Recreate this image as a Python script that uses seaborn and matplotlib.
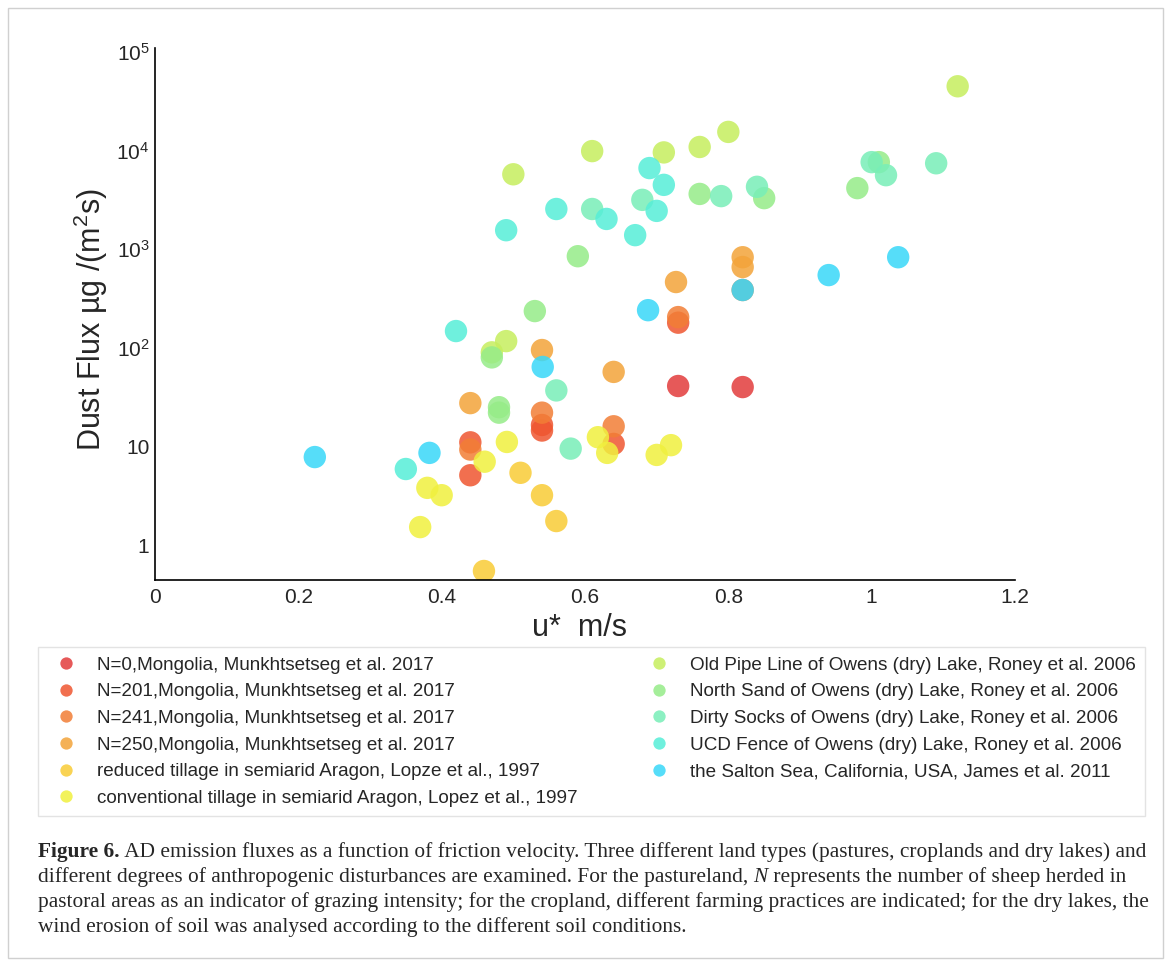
import pandas as pd
import matplotlib.pyplot as plt
import matplotlib.ticker as mticker
from matplotlib.patches import Rectangle
import seaborn as sns

# values (u* in m/s, dust flux in ug/(m2 s))
n0_x = [0.73, 0.82]
n0_y = [41, 40]
n201_x = [0.44, 0.44, 0.54, 0.54, 0.64, 0.73]
n201_y = [11.0, 5.1, 16.5, 14.5, 10.6, 180]
n241_x = [0.44, 0.54, 0.64, 0.73, 0.82]
n241_y = [9.3, 22, 16, 205, 386]
n250_x = [0.44, 0.54, 0.64, 0.727, 0.82, 0.82]
n250_y = [27.5, 95, 57, 465, 830, 660]
reduced_x = [0.459, 0.51, 0.54, 0.56]
reduced_y = [0.545, 5.4, 3.2, 1.75]
conv_x = [0.37, 0.38, 0.40, 0.46, 0.491, 0.618, 0.631, 0.70, 0.72]
conv_y = [1.52, 3.8, 3.2, 7.0, 11.1, 12.4, 8.6, 8.2, 10.3]
pipe_x = [0.49, 0.47, 0.50, 0.61, 0.71, 0.76, 0.80, 1.12]
pipe_y = [117, 90, 5760, 9900, 9600, 10900, 15500, 45000]
north_x = [0.47, 0.48, 0.48, 0.53, 0.59, 0.76, 0.85, 0.98, 1.01]
north_y = [80, 25, 22, 236, 850, 3640, 3300, 4170, 7650]
socks_x = [0.56, 0.58, 0.61, 0.68, 0.79, 0.84, 1.00, 1.02, 1.09]
socks_y = [37, 9.5, 2560, 3170, 3460, 4300, 7650, 5640, 7450]
ucd_x = [0.35, 0.42, 0.49, 0.56, 0.63, 0.67, 0.69, 0.70, 0.71]
ucd_y = [5.9, 148, 1560, 2560, 2030, 1390, 6660, 2450, 4500]
salton_x = [0.223, 0.383, 0.541, 0.688, 0.82, 0.94, 1.037]
salton_y = [7.8, 8.6, 64, 241, 386, 547, 830]

labels = [
    "N=0,Mongolia, Munkhtsetseg et al. 2017",
    "N=201,Mongolia, Munkhtsetseg et al. 2017",
    "N=241,Mongolia, Munkhtsetseg et al. 2017",
    "N=250,Mongolia, Munkhtsetseg et al. 2017",
    "reduced tillage in semiarid Aragon, Lopze et al., 1997",
    "conventional tillage in semiarid Aragon, Lopez et al., 1997",
    "Old Pipe Line of Owens (dry) Lake, Roney et al. 2006",
    "North Sand of Owens (dry) Lake, Roney et al. 2006",
    "Dirty Socks of Owens (dry) Lake, Roney et al. 2006",
    "UCD Fence of Owens (dry) Lake, Roney et al. 2006",
    "the Salton Sea, California, USA, James et al. 2011",
]
colors = ["#e23c3c", "#ef5630", "#f27e36", "#f3a43a", "#f9cc36", "#f0f03e",
          "#c6ee5e", "#96ec88", "#78eeb8", "#56eed8", "#38d8f8"]

xs = [n0_x, n201_x, n241_x, n250_x, reduced_x, conv_x,
      pipe_x, north_x, socks_x, ucd_x, salton_x]
ys = [n0_y, n201_y, n241_y, n250_y, reduced_y, conv_y,
      pipe_y, north_y, socks_y, ucd_y, salton_y]

rows = []
for lab, xx, yy in zip(labels, xs, ys):
    for a, b in zip(xx, yy):
        rows.append({"u": a, "flux": b, "site": lab})
df = pd.DataFrame(rows)

sns.set_style("white")
plt.rcParams["font.family"] = ["Liberation Sans", "DejaVu Sans"]
plt.rcParams["mathtext.fontset"] = "custom"
plt.rcParams["mathtext.rm"] = "Liberation Sans"
plt.rcParams["mathtext.it"] = "Liberation Sans:italic"

fig = plt.figure(figsize=(11.71, 9.67), dpi=100)
ax = fig.add_axes([155 / 1171, 1 - 580 / 967, 860 / 1171, 532 / 967])

sns.scatterplot(data=df, x="u", y="flux", hue="site", hue_order=labels,
                palette=colors, s=260, alpha=0.85, linewidth=0, ax=ax)

ax.set_yscale("log")
ax.set_xlim(0, 1.2)
ax.set_ylim(0.4416, 1.1e5)
ax.xaxis.set_major_locator(mticker.FixedLocator([0, 0.2, 0.4, 0.6, 0.8, 1.0, 1.2]))
ax.set_xticklabels(["0", "0.2", "0.4", "0.6", "0.8", "1", "1.2"])
ax.yaxis.set_major_locator(mticker.FixedLocator([1, 10, 1e2, 1e3, 1e4, 1e5]))
ax.yaxis.set_minor_locator(mticker.NullLocator())
ax.set_yticklabels(["1", "10", r"$\mathregular{10^2}$", r"$\mathregular{10^3}$",
                    r"$\mathregular{10^4}$", r"$\mathregular{10^5}$"])
ax.tick_params(axis="both", length=0, labelsize=15)
ax.tick_params(axis="x", pad=6)
ax.tick_params(axis="y", pad=4)
sns.despine(ax=ax)
for sp in ["left", "bottom"]:
    ax.spines[sp].set_color("black")
    ax.spines[sp].set_linewidth(1.2)

ax.set_xlabel("u*  m/s", fontsize=22)
ax.set_ylabel(r"Dust Flux µg /(m$\mathregular{^2}$s)", fontsize=22)
ax.xaxis.set_label_coords(0.494, -0.062)
ax.yaxis.set_label_coords(-0.052, 0.49)

handles, _ = ax.get_legend_handles_labels()
ax.get_legend().remove()
leg = fig.legend(handles, labels, ncol=2, loc="upper left",
                 bbox_to_anchor=(38 / 1171, 1 - 823 / 967, 1107 / 1171, 176 / 967),
                 mode="expand", borderaxespad=0, fontsize=13.6, markerscale=0.55,
                 labelspacing=0.5, handletextpad=0.6, borderpad=0.5,
                 fancybox=False, frameon=True)
leg.get_frame().set_edgecolor("#dddddd")
leg.get_frame().set_linewidth(1.0)

# caption, written as runs so bold / italic parts sit inline
renderer = fig.canvas.get_renderer()


def put_runs(x, y, runs):
    for txt, weight, style in runs:
        t = fig.text(x, y, txt, fontsize=15.4, family="Liberation Serif",
                     weight=weight, style=style, va="center", ha="left")
        x += t.get_window_extent(renderer).width / fig.bbox.width


cx = 38 / 1171
put_runs(cx, 1 - 852 / 967, [
    ("Figure 6.", "bold", "normal"),
    (" AD emission fluxes as a function of friction velocity. Three different land types "
     "(pastures, croplands and dry lakes) and", "normal", "normal")])
put_runs(cx, 1 - 877 / 967, [
    ("different degrees of anthropogenic disturbances are examined. For the pastureland, ",
     "normal", "normal"),
    ("N", "normal", "italic"),
    (" represents the number of sheep herded in", "normal", "normal")])
put_runs(cx, 1 - 902 / 967, [
    ("pastoral areas as an indicator of grazing intensity; for the cropland, different farming "
     "practices are indicated; for the dry lakes, the", "normal", "normal")])
put_runs(cx, 1 - 927 / 967, [
    ("wind erosion of soil was analysed according to the different soil conditions.",
     "normal", "normal")])

fig.patches.append(Rectangle((8 / 1171, 1 - 958 / 967), 1155 / 1171, 950 / 967,
                             transform=fig.transFigure, fill=False,
                             edgecolor="#d0d0d0", linewidth=1.0))

fig.savefig("out.png", dpi=100)
